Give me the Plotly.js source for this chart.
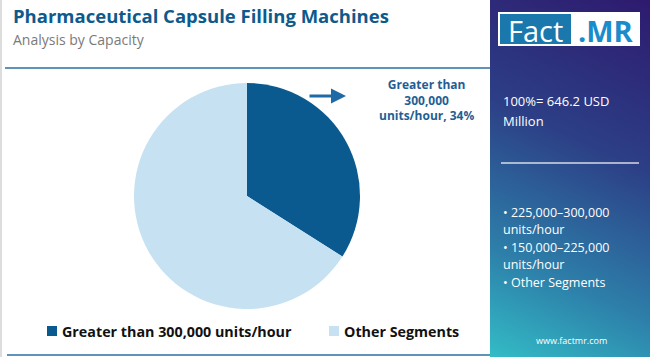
<!DOCTYPE html>
<html><head><meta charset="utf-8">
<script src="https://cdn.plot.ly/plotly-3.0.1.min.js"></script>
<style>
html,body{margin:0;padding:0;background:#fff;}
#wrap{position:relative;width:650px;height:357px;overflow:hidden;}
#panel{position:absolute;left:490px;top:0;width:160px;height:357px;
 background:linear-gradient(205deg,#2e1a6e 0%,#2c3f86 40%,#2d80aa 75%,#33bcc6 100%);}
#chart{position:absolute;left:0;top:0;width:650px;height:357px;}
</style></head>
<body><div id="wrap"><div id="panel"></div><div id="chart"></div></div>
<script>
const categories = ["Greater than 300,000 units/hour", "Other Segments"];
const shares = [34, 66];
const colors = ["#0b5a8f", "#c6e2f2"];
const title = "Pharmaceutical Capsule Filling Machines";
const subtitle = "Analysis by Capacity";
const totalText = ["100%= 646.2 USD", "Million"];
const otherList = ["• 225,000–300,000", "units/hour", "• 150,000–225,000", "units/hour", "• Other Segments"];

const W = 650, H = 357;
const px = x => x / W, py = y => 1 - y / H;
const F = "Open Sans, Noto Sans, sans-serif";

const annotations = [];
const shapes = [];

// title
annotations.push({xref:'paper',yref:'paper',x:px(11),y:py(16),xanchor:'left',yanchor:'middle',showarrow:false,
  text:'<b>'+title+'</b>',font:{family:F,size:18.5,color:'#0d5a8c'}});
annotations.push({xref:'paper',yref:'paper',x:px(11),y:py(39.5),xanchor:'left',yanchor:'middle',showarrow:false,
  text:subtitle,font:{family:F,size:14,color:'#7a7a7a'}});
// lines
shapes.push({type:'line',xref:'paper',yref:'paper',x0:px(5),x1:px(490),y0:py(68),y1:py(68),line:{color:'#2a6fa0',width:1.5}});
shapes.push({type:'line',xref:'paper',yref:'paper',x0:px(7),x1:px(490),y0:py(355),y1:py(355),line:{color:'#2a6fa0',width:1.5}});
shapes.push({type:'line',xref:'paper',yref:'paper',x0:px(1),x1:px(1),y0:py(0),y1:py(357),line:{color:'#dddddd',width:2}});

// callout arrow + label
annotations.push({xref:'paper',yref:'paper',x:px(346),y:py(96),ax:-38,ay:0,text:'',showarrow:true,
  arrowhead:2,arrowsize:1,arrowwidth:3,arrowcolor:'#1f6aa5'});
annotations.push({xref:'paper',yref:'paper',x:px(426),y:py(100),xanchor:'center',yanchor:'middle',showarrow:false,
  text:'<b>Greater than<br>300,000<br>units/hour, '+shares[0]+'%</b>',align:'center',
  font:{family:F,size:12,color:'#1f5f95'}});

// custom legend
const legX = [47, 329];
categories.forEach((c,i)=>{
  shapes.push({type:'rect',xref:'paper',yref:'paper',x0:px(legX[i]),x1:px(legX[i]+10),y0:py(336),y1:py(326),
    fillcolor:colors[i],line:{width:0}});
  annotations.push({xref:'paper',yref:'paper',x:px(legX[i]+13),y:py(331),xanchor:'left',yanchor:'middle',showarrow:false,
    text:'<b>'+c+'</b>',font:{family:F,size:14.3,color:'#111'}});
});

// right panel: logo
shapes.push({type:'rect',xref:'paper',yref:'paper',x0:px(498),x1:px(640),y0:py(12),y1:py(46),fillcolor:'#ffffff',line:{width:0}});
shapes.push({type:'rect',xref:'paper',yref:'paper',x0:px(500),x1:px(571),y0:py(14),y1:py(44),fillcolor:'#1a78ad',line:{width:0}});
annotations.push({xref:'paper',yref:'paper',x:px(535),y:py(30),xanchor:'center',yanchor:'middle',showarrow:false,
  text:'Fact',font:{family:F,size:29,color:'#ffffff'}});
annotations.push({xref:'paper',yref:'paper',x:px(606),y:py(30),xanchor:'center',yanchor:'middle',showarrow:false,
  text:'<b>.MR</b>',font:{family:F,size:29,color:'#1a8ccc'}});
// total
totalText.forEach((t,i)=>annotations.push({xref:'paper',yref:'paper',x:px(501),y:py(101+i*20),xanchor:'left',yanchor:'middle',showarrow:false,
  text:t,font:{family:F,size:13,color:'#ffffff'}}));
shapes.push({type:'line',xref:'paper',yref:'paper',x0:px(501),x1:px(639),y0:py(163),y1:py(163),line:{color:'rgba(255,255,255,0.6)',width:2}});
otherList.forEach((t,i)=>annotations.push({xref:'paper',yref:'paper',x:px(501),y:py(212+i*17.6),xanchor:'left',yanchor:'middle',showarrow:false,
  text:t,font:{family:F,size:12.5,color:'#ffffff'}}));
annotations.push({xref:'paper',yref:'paper',x:px(571),y:py(340),xanchor:'center',yanchor:'middle',showarrow:false,
  text:'www.factmr.com',font:{family:F,size:9,color:'#ffffff'}});

const data = [{
  type:'pie', labels:categories, values:shares, sort:false, direction:'clockwise', rotation:0,
  marker:{colors:colors, line:{width:0}}, textinfo:'none', hoverinfo:'label+percent',
  domain:{x:[px(134), px(360)], y:[py(309), py(83)]}, showlegend:false
}];
const layout = {
  width:W, height:H, margin:{l:0,r:0,t:0,b:0},
  paper_bgcolor:'rgba(0,0,0,0)', plot_bgcolor:'rgba(0,0,0,0)',
  showlegend:false, annotations, shapes, font:{family:F}
};
Plotly.newPlot('chart', data, layout, {displayModeBar:false, staticPlot:true});
</script></body></html>
